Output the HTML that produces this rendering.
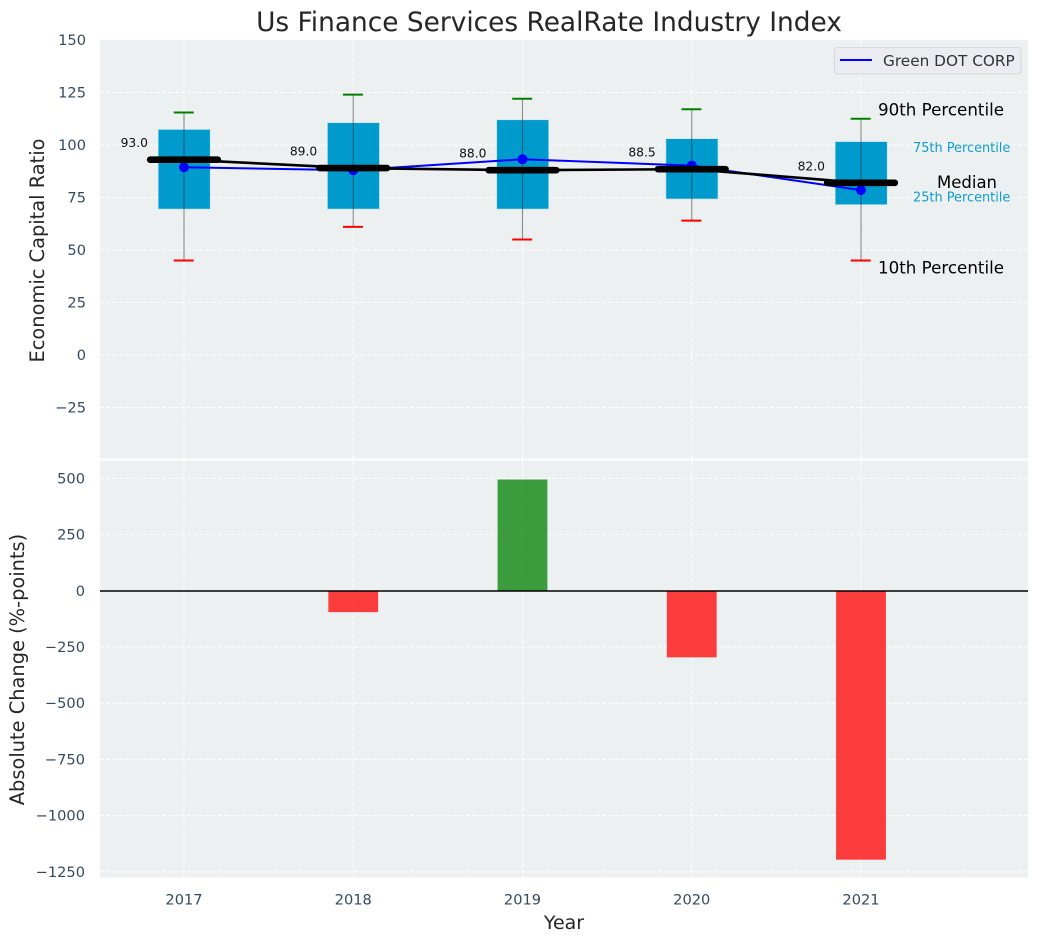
<!DOCTYPE html>
<html>
<head>
<meta charset="utf-8">
<title>Us Finance Services RealRate Industry Index</title>
<style>
html,body{margin:0;padding:0;background:#fff;}
svg{display:block;font-family:"DejaVu Sans","Liberation Sans",sans-serif;}
</style>
</head>
<body>
<svg id="chart" xmlns="http://www.w3.org/2000/svg" width="1039" height="942" viewBox="0 0 1039 942">
  <rect x="0" y="0" width="1039" height="942" fill="#ffffff"/>
  <rect x="100" y="40" width="928" height="418.5" fill="#ecf0f1"/>
  <rect x="100" y="460.5" width="928" height="417" fill="#ecf0f1"/>
  <g id="grid"></g>
  <g id="boxes"></g>
  <g id="lines"></g>
  <g id="bars"></g>
  <g id="ticks"></g>
  <g id="notes"></g>
  <text x="549" y="31" text-anchor="middle" font-size="26.4" fill="#262626">Us Finance Services RealRate Industry Index</text>
  <text transform="translate(44,250.5) rotate(-90)" text-anchor="middle" font-size="19.4" fill="#262626">Economic Capital Ratio</text>
  <text transform="translate(24,669.5) rotate(-90)" text-anchor="middle" font-size="19.4" fill="#262626">Absolute Change (%-points)</text>
  <text x="564" y="929" text-anchor="middle" font-size="19" fill="#262626">Year</text>
  <g>
    <rect x="834.5" y="47.5" width="186.5" height="26.5" rx="3" fill="#eaecf1" stroke="#d8d8d8" stroke-width="1"/>
    <line x1="840" y1="60" x2="872" y2="60" stroke="#0000ff" stroke-width="2"/>
    <text x="883" y="66" font-size="15.3" fill="#333333">Green DOT CORP</text>
  </g>
</svg>
<script>
const years = [2017, 2018, 2019, 2020, 2021];
const p90 = [115.5, 124, 122, 117, 112.5];
const p75 = [107.4, 110.6, 112, 103, 101.6];
const p25 = [69.5, 69.5, 69.5, 74.3, 71.6];
const p10 = [45, 61, 55, 64, 45];
const medians = [93, 89, 88, 88.5, 82];
const company = [89.4, 88, 93.2, 90.2, 78.5];
const changes = [0, -95, 495, -296, -1196];
const topTicks = [150, 125, 100, 75, 50, 25, 0, -25];
const bottomTicks = [500, 250, 0, -250, -500, -750, -1000, -1250];
const seriesName = 'green-dot-corp';

const NS = 'http://www.w3.org/2000/svg';
const xs = v => 184 + (v - 2017) * 169.25;
const yTop = v => 355 - v * 2.1;
const yBot = v => 590.8 - v * 0.2248;
const MINUS = '\u2212';

function mk(parentId, tag, attrs, txt) {
  const el = document.createElementNS(NS, tag);
  for (const k in attrs) el.setAttribute(k, attrs[k]);
  if (txt !== undefined) el.textContent = txt;
  document.getElementById(parentId).appendChild(el);
  return el;
}

const gridStyle = {stroke: '#ffffff', 'stroke-width': 1, 'stroke-dasharray': '4 2.2', fill: 'none', opacity: 0.95};

topTicks.forEach(t => {
  const y = yTop(t);
  if (t !== 150) {
    const g = mk('grid', 'line', Object.assign({x1: 100, x2: 1028, y1: y, y2: y}, gridStyle));
    
    
  }
  const l = mk('ticks', 'text', {x: 86, y: y + 5, 'text-anchor': 'end', 'font-size': 14.6, fill: '#34495e'}, String(t).replace('-', MINUS));
  
  
});

bottomTicks.forEach(t => {
  const y = yBot(t);
  const g = mk('grid', 'line', Object.assign({x1: 100, x2: 1028, y1: y, y2: y}, gridStyle));
  
  
  const l = mk('ticks', 'text', {x: 85, y: y + 5, 'text-anchor': 'end', 'font-size': 14.6, fill: '#34495e'}, String(t).replace('-', MINUS));
  
  
});

years.forEach(yr => {
  const x = xs(yr);
  const g1 = mk('grid', 'line', Object.assign({x1: x, x2: x, y1: 40, y2: 458.5}, gridStyle));
  
  
  const g2 = mk('grid', 'line', Object.assign({x1: x, x2: x, y1: 460.5, y2: 877.5}, gridStyle));
  
  
  const l = mk('ticks', 'text', {x: x, y: 904.5, 'text-anchor': 'middle', 'font-size': 14.6, fill: '#34495e'}, String(yr));
  
  
});

const BOX_W = 52;
const BAR_W = 49.8;
const CAP_W = 0.118 * 169.25;
const MED_W = 0.2 * 169.25;

years.forEach((yr, i) => {
  const x = xs(yr);
  const box = mk('boxes', 'rect', {x: x - BOX_W / 2 + 0.2, y: yTop(p75[i]), width: BOX_W, height: yTop(p25[i]) - yTop(p75[i]), fill: '#009acd', stroke: '#bfe3ef', 'stroke-width': 0.6});
  
  
  const wh = mk('boxes', 'line', {x1: x, x2: x, y1: yTop(p90[i]), y2: yTop(p10[i]), stroke: '#333333', 'stroke-opacity': 0.55, 'stroke-width': 1.1});
  
  
  const cu = mk('boxes', 'line', {x1: x - CAP_W / 2 - 0.3, x2: x + CAP_W / 2 - 0.3, y1: yTop(p90[i]), y2: yTop(p90[i]), stroke: '#008000', 'stroke-width': 2});
  
  
  const cl = mk('boxes', 'line', {x1: x - CAP_W / 2 - 0.3, x2: x + CAP_W / 2 - 0.3, y1: yTop(p10[i]), y2: yTop(p10[i]), stroke: '#ff0000', 'stroke-width': 2});
  
  
});

const companyPts = years.map((yr, i) => xs(yr) + ',' + yTop(company[i])).join(' ');
const companyLine = mk('lines', 'polyline', {points: companyPts, fill: 'none', stroke: '#0000ff', 'stroke-width': 2});



years.forEach((yr, i) => {
  const p = mk('lines', 'circle', {cx: xs(yr), cy: yTop(company[i]), r: 5, fill: '#0000ff'});
  
  
});

const medianPts = years.map((yr, i) => xs(yr) + ',' + yTop(medians[i])).join(' ');
const medianLine = mk('lines', 'polyline', {points: medianPts, fill: 'none', stroke: '#000000', 'stroke-width': 2.6});



years.forEach((yr, i) => {
  const x = xs(yr);
  const y = yTop(medians[i]);
  const m = mk('lines', 'line', {x1: x - MED_W, x2: x + MED_W, y1: y, y2: y, stroke: '#000000', 'stroke-width': 6.6, 'stroke-linecap': 'round'});
  
  
  const t = mk('notes', 'text', {x: x - 36, y: y - 12.5, 'text-anchor': 'end', 'font-size': 12.3, fill: '#111111'}, medians[i].toFixed(1));
  
  
});

const last = years.length - 1;
const lastX = xs(years[last]);

const n90 = mk('notes', 'text', {x: lastX + 17, y: yTop(p90[last]) - 3.5, 'font-size': 16.7, fill: '#000000'}, '90th Percentile');


const n75 = mk('notes', 'text', {x: lastX + 52, y: yTop(p75[last]) + 10.3, 'font-size': 12.9, fill: '#0f9dcf'}, '75th Percentile');


const nMed = mk('notes', 'text', {x: lastX + 76, y: yTop(medians[last]) + 5, 'font-size': 16.5, fill: '#000000'}, 'Median');


const n25 = mk('notes', 'text', {x: lastX + 52, y: yTop(p25[last]) - 3, 'font-size': 12.9, fill: '#0f9dcf'}, '25th Percentile');


const n10 = mk('notes', 'text', {x: lastX + 17, y: yTop(p10[last]) + 13, 'font-size': 16.7, fill: '#000000'}, '10th Percentile');



years.forEach((yr, i) => {
  const v = changes[i];
  if (v === 0) return;
  const top = Math.min(yBot(v), yBot(0));
  const h = Math.abs(yBot(v) - yBot(0));
  const b = mk('bars', 'rect', {x: xs(yr) - BAR_W / 2, y: top, width: BAR_W, height: h, fill: v > 0 ? '#008000' : '#ff0000', 'fill-opacity': 0.75});
  
  
});

const zeroY = Math.round(yBot(0));
const zero = mk('bars', 'line', {x1: 100, x2: 1028, y1: zeroY, y2: zeroY, stroke: '#000000', 'stroke-width': 1.4});


</script>
</body>
</html>
